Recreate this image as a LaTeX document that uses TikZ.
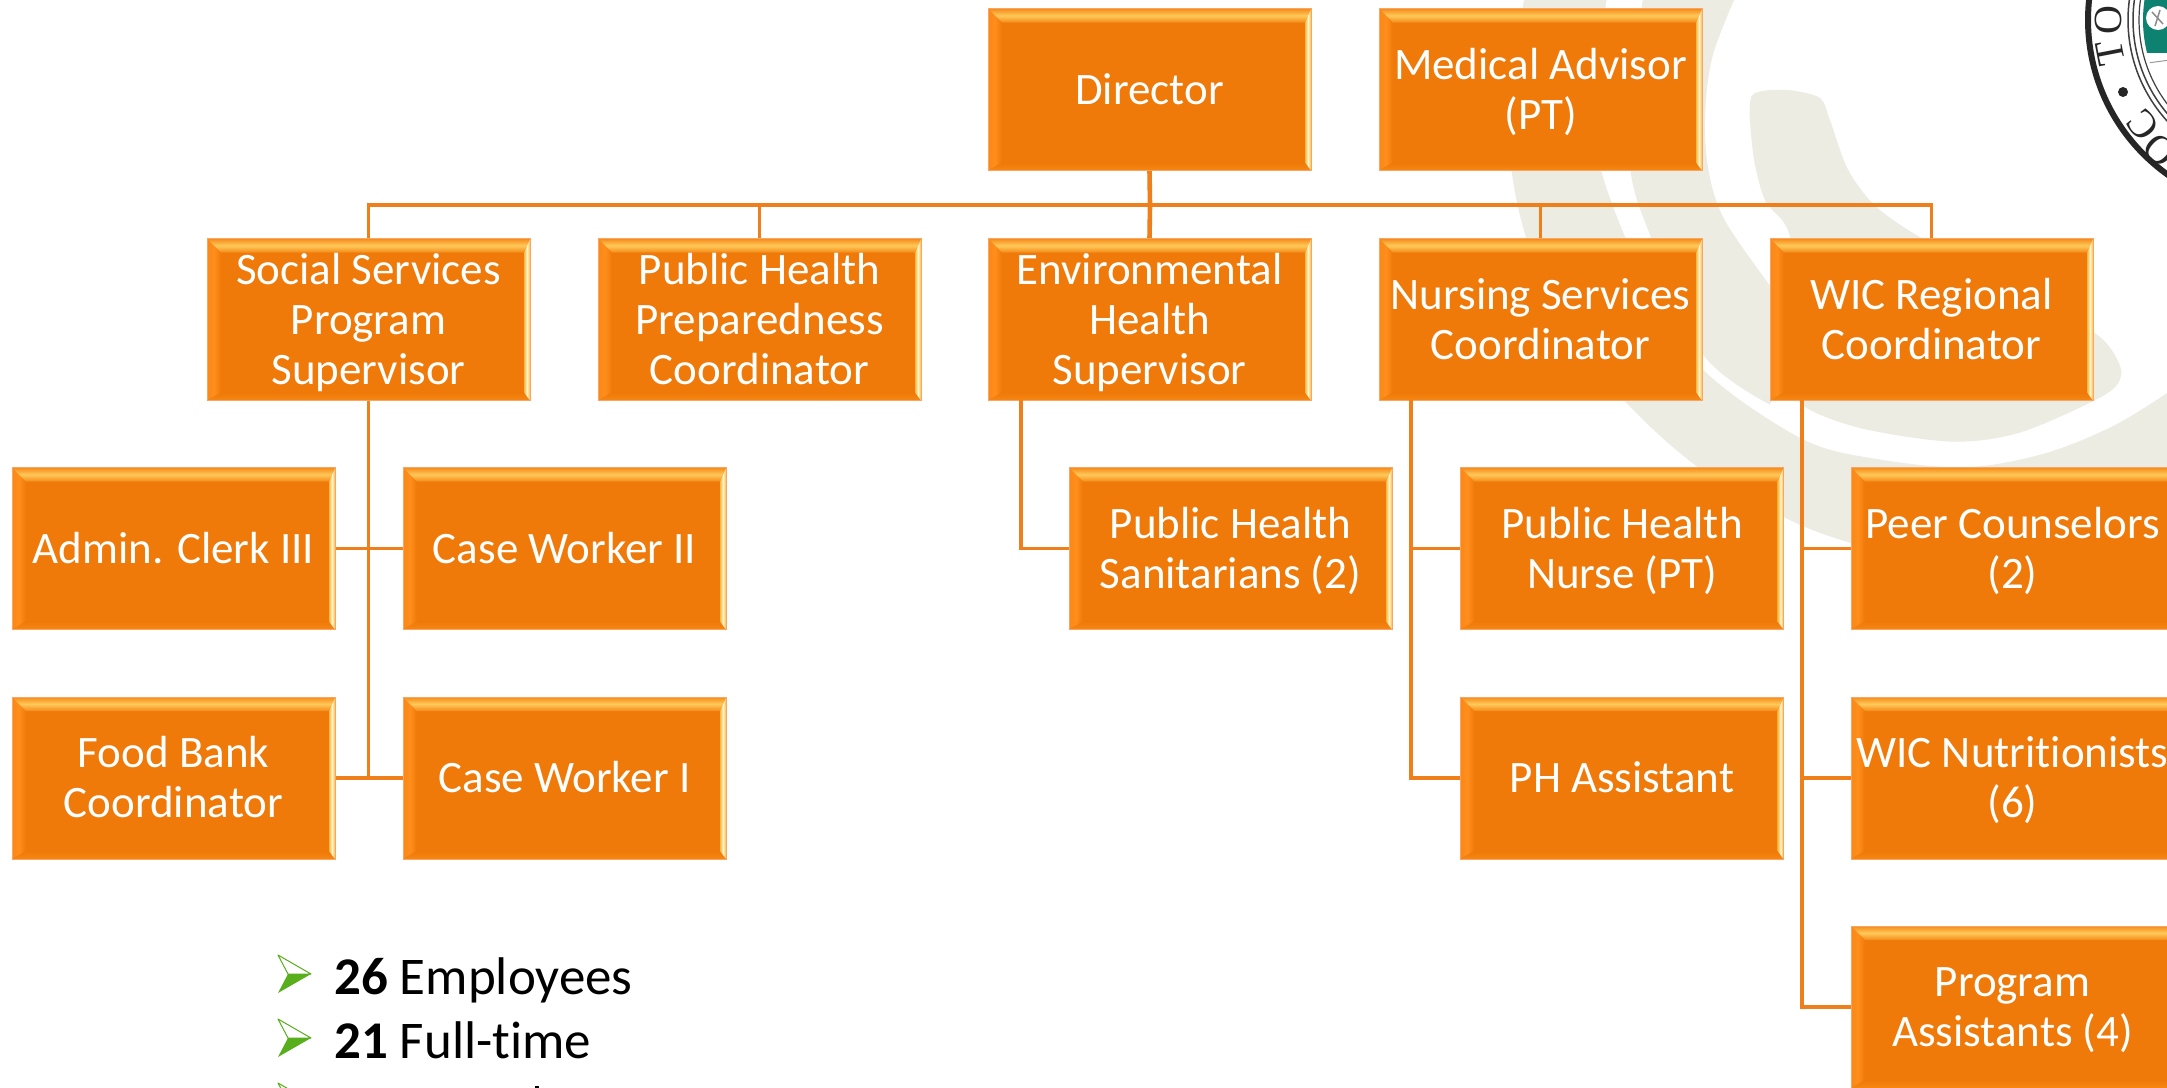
\documentclass[tikz,border=0pt]{standalone}
\usepackage{fontspec}
\setmainfont{Carlito}[Ligatures=NoCommon]
\newfontfamily\sealfont{Liberation Serif}
\usetikzlibrary{calc}
\definecolor{orgfill}{HTML}{EF7909}
\definecolor{orgedge}{HTML}{F8A565}
\definecolor{orgline}{HTML}{EF7F1A}
\definecolor{orgtop}{HTML}{FFC95A}
\definecolor{orgtopb}{HTML}{F58A18}
\definecolor{orgleft}{HTML}{FF8E1C}
\definecolor{orgbot}{HTML}{F78712}
\definecolor{orgright}{HTML}{FFF6CC}
\definecolor{orgrightb}{HTML}{FFB840}
\definecolor{palebg}{HTML}{ECECE3}
\definecolor{bulgreen}{HTML}{58AE1B}
\definecolor{sealgreen}{HTML}{0E8270}
\newcommand{\firstln}{\rule{0pt}{39pt}}
\newcommand{\lastln}{\rule[-10pt]{0pt}{10pt}}
\tikzset{
  orgbox/.style={rectangle,minimum width=323pt,minimum height=162pt,inner sep=0pt,
    fill=orgfill,draw=orgedge,line width=1pt,text=white,align=center,
    font=\fontsize{45}{50}\selectfont,
    path picture={
      \coordinate (nw) at (path picture bounding box.north west);
      \coordinate (ne) at (path picture bounding box.north east);
      \coordinate (sw) at (path picture bounding box.south west);
      \coordinate (se) at (path picture bounding box.south east);
      \shade[left color=orgleft!70!orgfill,right color=orgfill,middle color=orgleft]
        (nw) -- ($(nw)+(14pt,-14pt)$) -- ($(sw)+(14pt,8pt)$) -- (sw) -- cycle;
      \shade[top color=orgfill,bottom color=orgbot]
        (sw) -- ($(sw)+(14pt,8pt)$) -- ($(se)+(-6pt,8pt)$) -- (se) -- cycle;
      \shade[left color=orgrightb,right color=orgrightb,middle color=orgright]
        (ne) -- ($(ne)+(-6pt,-14pt)$) -- ($(se)+(-6pt,8pt)$) -- (se) -- cycle;
      \shade[top color=orgtopb,bottom color=orgtopb,middle color=orgtop]
        (nw) -- (ne) -- ($(ne)+(-6pt,-14pt)$) -- ($(nw)+(14pt,-14pt)$) -- cycle;
    }},
  link/.style={draw=orgline,line width=3.6pt,line join=miter},
  paleshape/.style={fill=palebg,draw=none},
  bullettext/.style={anchor=base west,inner sep=0pt,text=black,font=\fontsize{53}{63}\selectfont},
  sealletter/.style={inner sep=0pt,text=black!85,font=\sealfont\fontsize{40}{40}\selectfont},
}
\newcommand{\arrowbul}[1]{%
  \begin{scope}[shift={#1}]
    \fill[white] (0,0) -- (33,19) -- (10,19) -- cycle;
    \draw[bulgreen,line width=1pt,line join=round] (0,0) -- (33,19) -- (10,19) -- cycle;
    \fill[bulgreen] (0,38) -- (33,19) -- (10,19) -- cycle;
  \end{scope}}
\begin{document}
\begin{tikzpicture}[x=1pt,y=-1pt]
\clip (0,0) rectangle (2167,1087);
\fill[white] (0,0) rectangle (2167,1087);

% pale swirl in the background (coordinates scaled from a 2.187x crop)
\begin{scope}[shift={(1450,0)},x=0.4572pt,y=-0.4572pt]
  \fill[paleshape] plot[smooth,tension=0.55] coordinates {(165,-20)(135,190)(135,375)(180,560)(270,730)(380,875)(540,1020)(728,1130)(875,1187)(1100,1240)}
    -- (1620,1240) -- (1620,825)
    -- plot[smooth,tension=0.55] coordinates {(1568,860)(1450,932)(1300,992)(1130,1022)(940,1005)(770,960)(553,808)(430,620)(345,420)(320,300)(325,150)(345,-20)} -- cycle;
  \fill[paleshape] plot[smooth,tension=0.55] coordinates {(425,-20)(395,190)(395,375)(440,520)(553,775)(700,885)}
    -- (760,700)
    -- plot[smooth,tension=0.55] coordinates {(700,625)(600,480)(565,370)(558,250)(575,120)(630,-20)} -- cycle;
  \fill[paleshape] plot[smooth,tension=0.5] coordinates {(655,250)(665,350)(690,440)(745,525)(745,800)(770,885)(900,937)(1100,966)(1250,945)(1430,865)(1468,820)(1450,770)(1405,725)(1250,640)(1030,520)(930,450)(870,370)(830,260)(810,215)(750,198)(690,198)(660,210)(655,250)} -- cycle;
\end{scope}

% seal
\begin{scope}
  \fill[white] (2278,20) circle[radius=193];
  \draw[black!85,line width=6pt] (2278,20) circle[radius=190];
  \draw[black!75,line width=1.5pt] (2278,20) circle[radius=150];
  \draw[black!75,line width=1.5pt] (2278,20) circle[radius=145];
  \draw[black!75,line width=1.2pt] (2278,20) circle[radius=139];
  \begin{scope}
    \clip (2278,20) circle[radius=135];
    \fill[sealgreen] (2140,-5) rectangle (2170,53);
    \fill[white] (2158,18) circle[radius=12];
    \draw[black!45,line width=1.5pt] (2152,12) -- (2163,24) (2160,10) -- (2155,26);
    \draw[black!40,line width=1pt] (2140,64) -- (2170,60);
  \end{scope}
  \node[sealletter,rotate=90] (sealO) at (2108,20) {O};
  \node[sealletter,rotate=101] (sealT) at (2110,53) {T};
  \fill[black!85] (2123,92) circle[radius=5];
  \node[sealletter,rotate=128] (sealC) at (2143,125) {C};
  \node[sealletter,rotate=137] (sealP) at (2160,150) {O};
\end{scope}

% boxes
\node[orgbox] (dir) at (1149.5,89.5) {\firstln Director\lastln};
\node[orgbox] (med) at (1540.5,89.5) {\firstln Medical Advisor\\(PT)\lastln};
\node[orgbox] (ss) at (368.5,319.5) {\firstln Social Services\\Program\\Supervisor\lastln};
\node[orgbox] (php) at (759.5,319.5) {\firstln Public Health\\Preparedness\\Coordinator\lastln};
\node[orgbox] (env) at (1149.5,319.5) {\firstln Environmental\\Health\\Supervisor\lastln};
\node[orgbox] (nur) at (1540.5,319.5) {\firstln Nursing Services\\Coordinator\lastln};
\node[orgbox] (wic) at (1931.5,319.5) {\firstln WIC Regional\\Coordinator\lastln};
\node[orgbox] (adm) at (173.5,548.5) {\firstln Admin. Clerk III\lastln};
\node[orgbox] (cw2) at (564.5,548.5) {\firstln Case Worker II\lastln};
\node[orgbox] (san) at (1230.5,548.5) {\firstln Public Health\\Sanitarians (2)\lastln};
\node[orgbox] (phn) at (1622,548.5) {\firstln Public Health\\Nurse (PT)\lastln};
\node[orgbox] (peer) at (2012.5,548.5) {\firstln Peer Counselors\\(2)\lastln};
\node[orgbox] (fbc) at (173.5,778) {\firstln Food Bank\\Coordinator\lastln};
\node[orgbox] (cw1) at (564.5,778) {\firstln Case Worker I\lastln};
\node[orgbox] (pha) at (1622,778) {\firstln PH Assistant\lastln};
\node[orgbox] (nut) at (2012.5,778) {\firstln WIC Nutritionists\\(6)\lastln};
\node[orgbox] (pas) at (2012.5,1007) {\firstln Program\\Assistants (4)\lastln};

% connectors
\coordinate (bus) at (1150,205);
\coordinate (envdrop) at (1021,400);
\coordinate (nurdrop) at (1411,400);
\coordinate (wicdrop) at (1802,400);
\draw[link,line width=4.6pt] (dir.south) -- (bus) -- (env.north);
\draw[link] (bus) -| (ss.north);
\draw[link] (bus) -| (php.north);
\draw[link] (bus) -| (nur.north);
\draw[link] (bus) -| (wic.north);
\draw[link] (ss.south) |- (adm.east);
\draw[link] (ss.south) |- (cw2.west);
\draw[link] (ss.south) |- (fbc.east);
\draw[link] (ss.south) |- (cw1.west);
\draw[link] (envdrop) |- (san.west);
\draw[link] (nurdrop) |- (phn.west);
\draw[link] (nurdrop) |- (pha.west);
\draw[link] (wicdrop) |- (peer.west);
\draw[link] (wicdrop) |- (nut.west);
\draw[link] (wicdrop) |- (pas.west);

% bullet list
\arrowbul{(278,955)}
\arrowbul{(278,1019)}
\arrowbul{(278,1083)}
\node[bullettext] (b1) at (334,994) {\textbf{26} Employees};
\node[bullettext] (b2) at (334,1058) {\textbf{21} Full-time};
\fill[black] (535,1086) rectangle (539,1088);
\end{tikzpicture}
\end{document}
